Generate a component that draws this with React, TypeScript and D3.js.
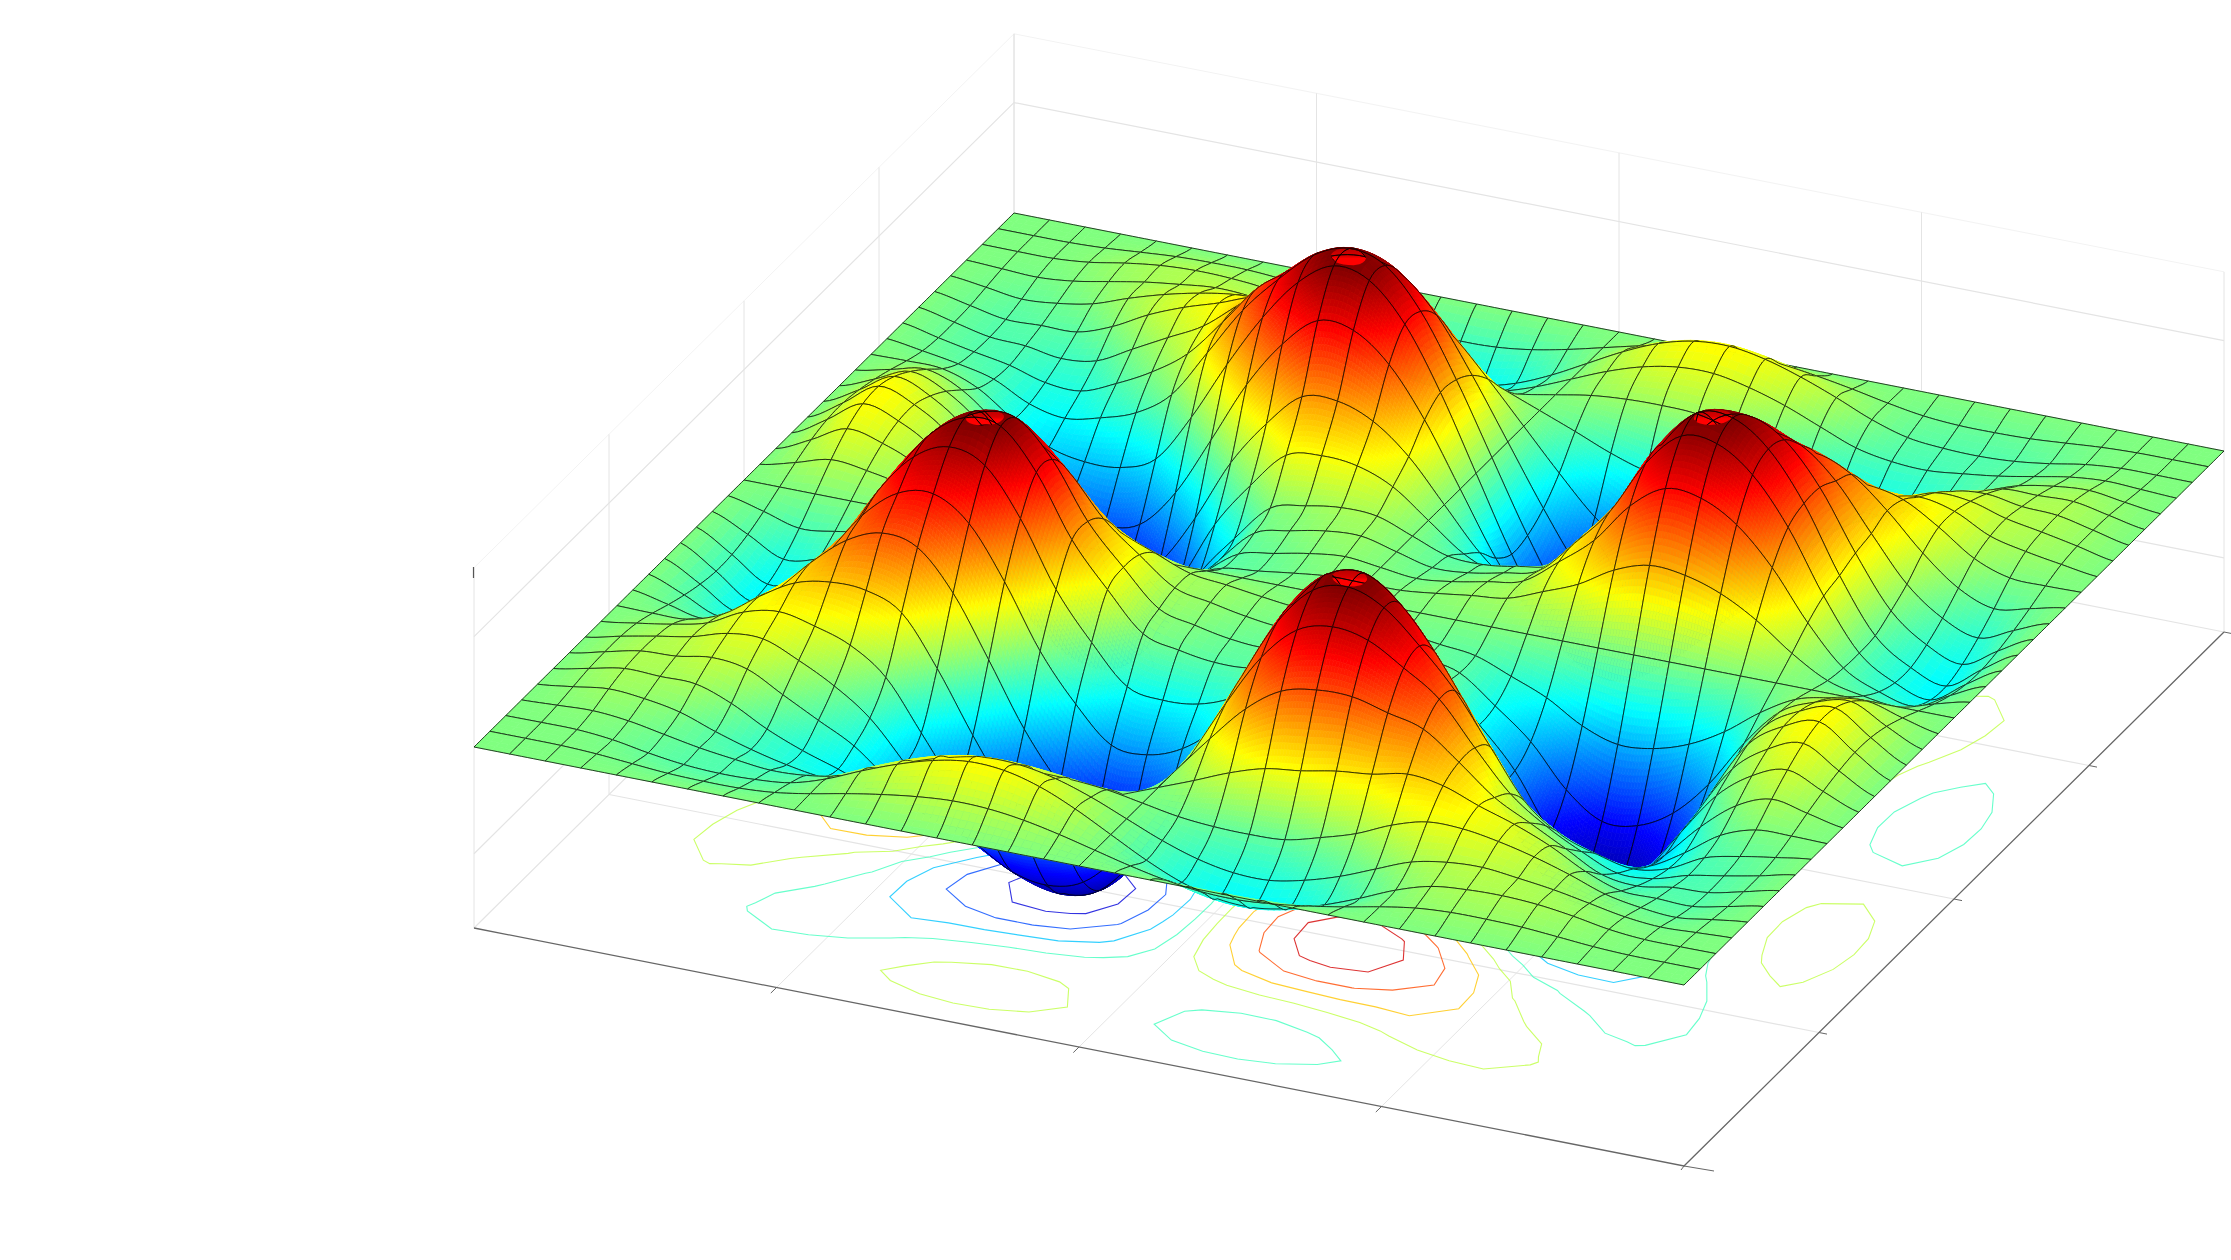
import React, { useEffect, useRef } from 'react';
import * as d3 from 'd3';

const WIDTH = 2231;
const HEIGHT = 1260;
const CELLS = 34;

// Surface height for one wedge of the plate (x > y > 0), rows are y index 1..15.
// The surface repeats under a 90 degree turn and flips sign across x = y, so the rest comes from this.
const wedgeRows = [
  [0.021, 0.047, 0.07, 0.143, 0.221, 0.334, 0.397, 0.381, 0.32, 0.215, 0.075, -0.034, -0.079, -0.1, -0.047],
  [0.037, 0.078, 0.218, 0.373, 0.594, 0.726, 0.711, 0.606, 0.413, 0.154, -0.051, -0.141, -0.182, -0.086],
  [0.05, 0.235, 0.444, 0.74, 0.924, 0.92, 0.79, 0.546, 0.214, -0.055, -0.177, -0.232, -0.11],
  [0.2, 0.43, 0.755, 0.965, 0.974, 0.845, 0.59, 0.24, -0.046, -0.18, -0.242, -0.115],
  [0.247, 0.59, 0.839, 0.901, 0.81, 0.591, 0.276, 0.003, -0.142, -0.21, -0.1],
  [0.335, 0.611, 0.733, 0.699, 0.542, 0.297, 0.062, -0.083, -0.152, -0.074],
  [0.321, 0.529, 0.569, 0.492, 0.335, 0.145, -0.006, -0.079, -0.041],
  [0.262, 0.345, 0.352, 0.31, 0.2, 0.069, 0.002, -0.003],
  [0.135, 0.2, 0.24, 0.2, 0.105, 0.06, 0.028],
  [0.1, 0.178, 0.17, 0.115, 0.08, 0.042],
  [0.1, 0.125, 0.095, 0.085, 0.043],
  [0.067, 0.07, 0.075, 0.038],
  [0.035, 0.05, 0.024],
  [0.017, 0.009],
  [0.001],
];
const contourLevels = [-0.81, -0.588, -0.353, -0.118, 0.118, 0.353, 0.588, 0.81];
const axisTicks = [0.25, 0.5, 0.75];
const zGridLevels = [-0.59, 0.61];
const jetStops = [-0.97, -0.73, -0.24, 0.24, 0.73, 0.97];
const jetColors = ['#00008f', '#0000ff', '#00ffff', '#ffff00', '#ff0000', '#800000'];
const capDepth = 0.017;

const half = CELLS / 2;
const heightAt = (a: number, b: number) => {
  let x = a - half;
  let y = b - half;
  if (x === 0 || y === 0) return 0;
  while (!(x > 0 && y > 0)) [x, y] = [-y, x];
  if (x === y || x === half || y === half) return 0;
  return x > y ? wedgeRows[y - 1][x - y - 1] : -wedgeRows[x - 1][y - x - 1];
};
const grid = d3.range(CELLS + 1).map(b => d3.range(CELLS + 1).map(a => heightAt(a, b)));

const jet = d3.scaleLinear<string>().domain(jetStops).range(jetColors).clamp(true);
const uX = d3.scaleLinear([0, 1], [0, 1210]);
const uY = d3.scaleLinear([0, 1], [0, 238]);
const vX = d3.scaleLinear([0, 1], [0, 540]);
const vY = d3.scaleLinear([0, 1], [0, -534]);
const zY = d3.scaleLinear([-1, 1], [186, -186]);
const FLOOR_DROP = 181;
const ORIGIN = [474, 747];

const project = (u: number, v: number, z: number): [number, number] => [
  ORIGIN[0] + uX(u) + vX(v),
  ORIGIN[1] + uY(u) + vY(v) + zY(z),
];
const onFloor = (u: number, v: number, lift = 0): [number, number] => [
  ORIGIN[0] + uX(u) + vX(v),
  ORIGIN[1] + uY(u) + vY(v) + FLOOR_DROP - lift,
];

const spline = (p0: number, p1: number, p2: number, p3: number, t: number) =>
  0.5 * (2 * p1 + (p2 - p0) * t + (2 * p0 - 5 * p1 + 4 * p2 - p3) * t * t + (3 * p1 - p0 - 3 * p2 + p3) * t * t * t);

const pick = (a: number, b: number) =>
  grid[Math.max(0, Math.min(CELLS, b))][Math.max(0, Math.min(CELLS, a))];

// smooth height between grid nodes, a and b in cell units
const surfaceAt = (a: number, b: number) => {
  const i = Math.min(CELLS - 1, Math.floor(a));
  const j = Math.min(CELLS - 1, Math.floor(b));
  const row = (k: number) => spline(pick(i - 1, k), pick(i, k), pick(i + 1, k), pick(i + 2, k), a - i);
  return spline(row(j - 1), row(j), row(j + 1), row(j + 2), b - j);
};

const App = () => {
  const ref = useRef<SVGSVGElement>(null);
  useEffect(() => {
    if (!ref.current) return;
    const svg = d3.select(ref.current);
    svg.selectAll('*').remove();
    const line = d3.line();

    const seg = (pts: [number, number][], color: string, width = 1) =>
      svg.append('path').attr('d', line(pts)).attr('fill', 'none').attr('stroke', color).attr('stroke-width', width);

    // walls and floor grid
    const wallTop = 1.99 * FLOOR_DROP;
    const gridColor = '#e4e4e4';
    seg([onFloor(0, 0, wallTop), onFloor(0, 1, wallTop), onFloor(1, 1, wallTop)], '#f3f3f3');
    zGridLevels.forEach(z => {
      const lift = (z + 1) * FLOOR_DROP;
      seg([onFloor(0, 0, lift), onFloor(0, 1, lift), onFloor(1, 1, lift)], gridColor, 1.2);
    });
    [0, ...axisTicks, 1].forEach(t => {
      seg([onFloor(0, t), onFloor(0, t, wallTop)], gridColor);
      seg([onFloor(t, 1), onFloor(t, 1, wallTop)], gridColor);
    });
    seg([onFloor(0, 0), onFloor(0, 1), onFloor(1, 1)], gridColor, 1.2);
    axisTicks.forEach(t => {
      seg([onFloor(t, 0), onFloor(t, 1)], gridColor);
      seg([onFloor(0, t), onFloor(1, t)], gridColor, 1.2);
    });

    // floor contours of the raw grid
    const n = CELLS + 1;
    const flat = grid.flat();
    contourLevels.forEach(level => {
      const sign = level < 0 ? -1 : 1;
      const shapes = d3.contours().size([n, n]).thresholds([Math.abs(level)])(flat.map(d => d * sign));
      shapes.forEach(shape => {
        shape.coordinates.forEach(poly => {
          poly.forEach(ring => {
            const pts = ring.map(([x, y]) => onFloor((x - 0.5) / CELLS, (y - 0.5) / CELLS));
            svg.append('path')
              .attr('d', line(pts) + 'Z')
              .attr('fill', 'none')
              .attr('stroke', jet(level))
              .attr('stroke-opacity', 0.8)
              .attr('stroke-width', 1.1);
          });
        });
      });
    });

    // axes
    const axisColor = '#666666';
    seg([onFloor(0, 0), onFloor(1, 0), onFloor(1, 1)], axisColor, 1.3);
    const tickDown: [number, number] = [-5.7, 5.6];
    const tickRight: [number, number] = [8, 1.6];
    axisTicks.forEach(t => {
      const p = onFloor(t, 0);
      seg([p, [p[0] + tickDown[0], p[1] + tickDown[1]]], axisColor);
      const q = onFloor(1, t);
      seg([q, [q[0] + tickRight[0], q[1] + tickRight[1]]], axisColor);
    });
    const corner = onFloor(1, 0);
    seg([corner, [corner[0] + 30, corner[1] + 5]], axisColor);
    seg([corner, [corner[0] - 3, corner[1] + 4]], axisColor);
    const far = onFloor(1, 1);
    seg([far, [far[0] + 8, far[1] + 1.6]], axisColor);
    seg([[473.5, 567], [473.5, 578]], '#555555', 1.2);

    // surface, back to front
    const mesh = 6;
    const surface = svg.append('g');
    const allEdges: string[] = [];
    for (let b = CELLS - 1; b >= 0; b--) {
      for (let a = 0; a < CELLS; a++) {
        const corners = [grid[b][a], grid[b][a + 1], grid[b + 1][a], grid[b + 1][a + 1]];
        const range = (d3.max(corners) as number) - (d3.min(corners) as number);
        const steps = Math.max(4, Math.min(12, Math.ceil(range / 0.025)));
        const at = (i: number, j: number): [number, number] => {
          const s = a + i / steps;
          const t = b + j / steps;
          return project(s / CELLS, t / CELLS, surfaceAt(s, t));
        };
        for (let j = steps - 1; j >= 0; j--) {
          for (let i = 0; i < steps; i++) {
            const c = jet(surfaceAt(a + (i + 0.5) / steps, b + (j + 0.5) / steps));
            surface.append('path')
              .attr('d', line([at(i, j), at(i + 1, j), at(i + 1, j + 1), at(i, j + 1)]) + 'Z')
              .attr('fill', c)
              .attr('stroke', c)
              .attr('stroke-width', 0.7);
          }
        }
        const edge = (fn: (k: number) => [number, number]) =>
          line(d3.range(mesh + 1).map(k => {
            const [s, t] = fn(k / mesh);
            return project(s / CELLS, t / CELLS, surfaceAt(s, t));
          }));
        const edges = [
          edge(k => [a, b + k]),
          edge(k => [a + k, b + 1]),
          edge(k => [a + 1, b + k]),
          edge(k => [a + k, b]),
        ].join('');
        allEdges.push(edges);
        surface.append('path')
          .attr('d', edges)
          .attr('fill', 'none')
          .attr('stroke', '#000')
          .attr('stroke-opacity', 0.8)
          .attr('stroke-width', 0.95);
      }
    }

    // the bright caps on the four summits
    const res = 8;
    const m = CELLS * res + 1;
    const fine = new Array(m * m);
    for (let j = 0; j < m; j++) for (let i = 0; i < m; i++) fine[i + j * m] = surfaceAt(i / res, j / res);
    const capLevel = (d3.max(fine) as number) - capDepth;
    const defs = svg.append('defs');
    const grad = defs.append('linearGradient').attr('id', 'capFill').attr('x1', 0).attr('y1', 0).attr('x2', 0).attr('y2', 1);
    grad.append('stop').attr('offset', '0%').attr('stop-color', '#b80000');
    grad.append('stop').attr('offset', '45%').attr('stop-color', '#d80000');
    grad.append('stop').attr('offset', '60%').attr('stop-color', '#ff0000');
    grad.append('stop').attr('offset', '100%').attr('stop-color', '#ff0000');
    const clip = defs.append('clipPath').attr('id', 'capClip');
    const [capShape] = d3.contours().size([m, m]).thresholds([capLevel])(fine);
    capShape.coordinates.forEach(poly => {
      const pts = poly[0].map(([x, y]) => {
        const a = (x - 0.5) / res;
        const b = (y - 0.5) / res;
        return project(a / CELLS, b / CELLS, surfaceAt(a, b));
      });
      const d = line(pts) + 'Z';
      svg.append('path').attr('d', d).attr('fill', 'url(#capFill)');
      clip.append('path').attr('d', d);
    });
    svg.append('path')
      .attr('d', allEdges.join(''))
      .attr('clip-path', 'url(#capClip)')
      .attr('fill', 'none')
      .attr('stroke', '#000')
      .attr('stroke-opacity', 0.8)
      .attr('stroke-width', 0.95);
  }, []);
  return (
    <svg
      ref={ref}
      width={WIDTH}
      height={HEIGHT}
      style={{ position: 'absolute', left: 0, top: 0, background: '#fff' }}
    />
  );
};

export default App;
